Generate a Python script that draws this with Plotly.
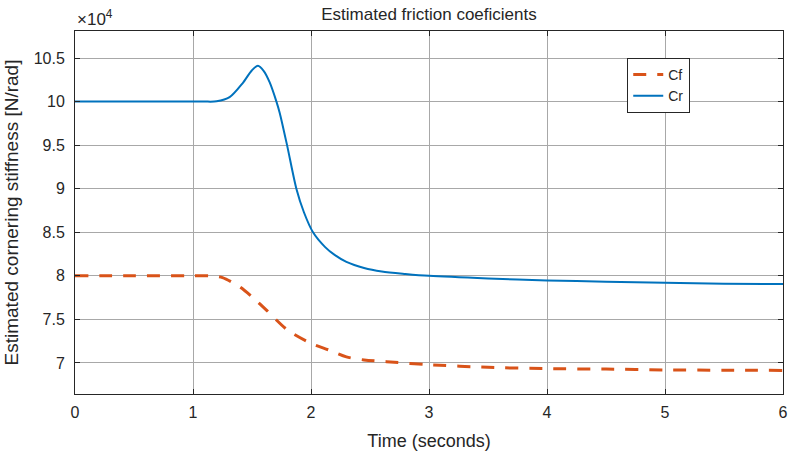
import plotly.graph_objects as go

# Time samples (seconds)
t_cr = [0, 0.5, 1.0, 1.1, 1.2, 1.31, 1.42, 1.5, 1.55, 1.6, 1.65, 1.707, 1.735, 1.797, 1.876, 1.94, 2.017, 2.12, 2.2, 2.3, 2.45, 2.6, 2.8, 3.0, 3.5, 4.0, 4.5, 5.0, 5.5, 6.0]
cr = [100000, 100000, 100000, 100000, 100030, 100500, 102100, 103600, 104100, 103500, 102200, 100000, 98700, 95000, 90000, 87300, 85000, 83300, 82400, 81600, 80900, 80500, 80220, 80000, 79700, 79480, 79320, 79200, 79100, 79050]

t_cf = [0, 0.5, 1.0, 1.15, 1.25, 1.4, 1.5, 1.62, 1.8, 2.0, 2.15, 2.3, 2.45, 2.64, 3.0, 3.5, 4.0, 4.5, 5.0, 5.5, 6.0]
cf = [80000, 80000, 80000, 80000, 79800, 78700, 77600, 76100, 73800, 72260, 71500, 70700, 70350, 70150, 69800, 69500, 69350, 69300, 69200, 69170, 69150]

x_ticks = [0, 1, 2, 3, 4, 5, 6]
y_ticks = [70000, 75000, 80000, 85000, 90000, 95000, 100000, 105000]
y_tick_text = ["7", "7.5", "8", "8.5", "9", "9.5", "10", "10.5"]

FONT = "Liberation Sans, Arial"
TXT = "#262626"

fig = go.Figure()
fig.add_trace(go.Scatter(x=t_cf, y=cf, mode="lines", name="Cf",
                         line=dict(color="#D95319", width=3, dash="13px,11px", shape="spline", smoothing=0.8)))
fig.add_trace(go.Scatter(x=t_cr, y=cr, mode="lines", name="Cr",
                         line=dict(color="#0072BD", width=2, shape="spline", smoothing=0.8)))

axis_common = dict(showline=True, linecolor=TXT, linewidth=1, mirror="ticks",
                   ticks="inside", ticklen=5, tickcolor=TXT,
                   showgrid=True, gridcolor="#a8a8a8", gridwidth=1, zeroline=False,
                   automargin=False,
                   tickfont=dict(family=FONT, size=16, color=TXT))

fig.update_xaxes(range=[0, 6], tickvals=x_ticks, ticklabelstandoff=4,
                 title=dict(text="Time (seconds)", font=dict(family=FONT, size=18, color=TXT), standoff=14),
                 **axis_common)
fig.update_yaxes(range=[66440, 108100], tickvals=y_ticks, ticktext=y_tick_text, ticklabelstandoff=6,
                 title=dict(text="Estimated cornering stiffness [N/rad]", font=dict(family=FONT, size=19, color=TXT), standoff=10),
                 **axis_common)

fig.update_layout(
    width=788, height=452,
    margin=dict(l=75, r=5, t=31, b=58),
    paper_bgcolor="white", plot_bgcolor="white",
    title=dict(text="Estimated friction coeficients", x=0.5, xref="paper", xanchor="center",
               y=0.969, yanchor="middle",
               font=dict(family=FONT, size=17, color=TXT)),
    legend=dict(x=0.78, y=0.926, xanchor="left", yanchor="top",
                bordercolor=TXT, borderwidth=1, bgcolor="white",
                font=dict(family=FONT, size=14, color=TXT),
                tracegroupgap=0),
    showlegend=True,
    annotations=[dict(text="×10<sup>4</sup>", xref="paper", yref="paper", x=0, y=1.0,
                      xanchor="left", yanchor="bottom", showarrow=False,
                      font=dict(family=FONT, size=17, color=TXT))],
)

fig.write_html("out.html")
